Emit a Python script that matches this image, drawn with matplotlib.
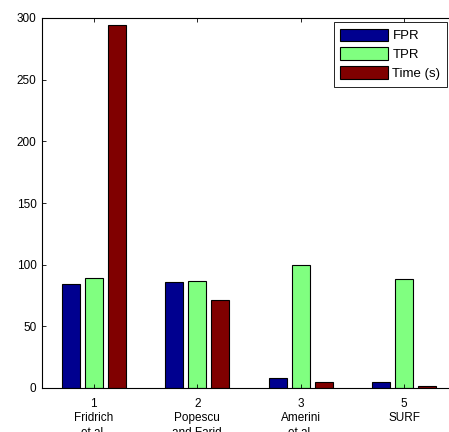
import numpy as np
import matplotlib.pyplot as plt

plt.rcParams['font.family'] = ['Liberation Sans', 'DejaVu Sans']

# valeurs
methodes = ['1\nFridrich\net al.', '2\nPopescu\nand Farid', '3\nAmerini\net al.', '5\nSURF\n']
fpr = [84, 86, 8, 5]
tpr = [89, 87, 100, 88]
temps = [294, 71, 5, 1.5]

series = [fpr, tpr, temps]
noms = ['FPR', 'TPR', 'Time (s)']
couleurs = ['#00008F', '#80FF80', '#800000']

fig = plt.figure(figsize=(4.49, 4.32), dpi=100)
ax = fig.add_axes([42/449, 44/432, 414/449, 370/432])

x = np.arange(1, len(methodes) + 1)
largeur = 0.178
pas = 0.222
for i, (val, nom, c) in enumerate(zip(series, noms, couleurs)):
    ax.bar(x + (i - 1) * pas, val, largeur, color=c, edgecolor='black',
           linewidth=0.8, label=nom)

ax.set_xlim(0.5, 4.5)
ax.set_ylim(0, 300)
ax.set_yticks(range(0, 301, 50))
ax.set_xticks(x)
ax.set_xticklabels(methodes, fontsize=8.5, linespacing=1.3)
ax.tick_params(axis='y', labelsize=8.5, direction='in', length=3, width=0.6, pad=4)
ax.tick_params(axis='x', direction='in', length=3, width=0.6, top=True, pad=7)
for s in ax.spines.values():
    s.set_linewidth(0.8)

leg = ax.legend(loc='upper right', bbox_to_anchor=(447/449, 410/432),
                bbox_transform=fig.transFigure, fontsize=9.5, fancybox=False,
                edgecolor='black', framealpha=1, borderaxespad=0,
                handlelength=3.65, handleheight=1.05, labelspacing=0.4,
                handletextpad=0.3, borderpad=0.5)
leg.get_frame().set_linewidth(0.6)

plt.savefig('out.png', dpi=100)
